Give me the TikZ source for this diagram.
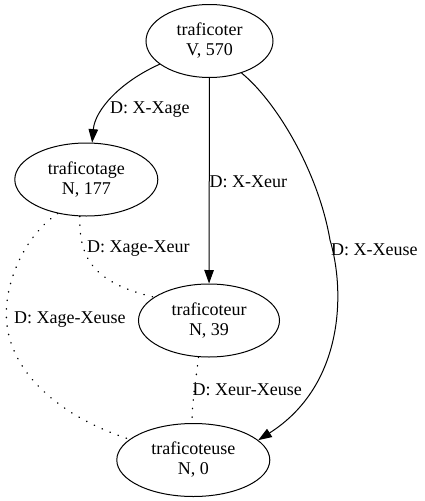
\documentclass[tikz,border=0pt]{standalone}
\usepackage{fontspec}
\setmainfont{Liberation Serif}
\usetikzlibrary{arrows.meta,shapes.geometric}
\begin{document}
\begin{tikzpicture}[x=1pt,y=-1pt,
  every node/.style={font=\fontsize{18}{20}\selectfont},
  word/.style={draw, ellipse, inner sep=0pt, align=center, line width=1pt, minimum height=73pt},
  lbl/.style={anchor=west, inner sep=0pt},
  link/.style={line width=1pt, -{Triangle[length=13.5pt,width=9.5pt]}},
  rel/.style={line width=1.4pt, line cap=round, dash pattern=on 0.4pt off 8.2pt}]
\fill[white] (0,0) rectangle (425,501);
\useasboundingbox (0,0) rectangle (425,501);
\node[word, minimum width=127pt] (r) at (209.5,41) {traficoter\\V, 570};
\node[word, minimum width=143pt] (g) at (86.3,179.5) {traficotage\\N, 177};
\node[word, minimum width=141pt] (e) at (209,320.5) {traficoteur\\N, 39};
\node[word, minimum width=153pt] (u) at (193.3,460) {traficoteuse\\N, 0};
\node[lbl] (l1) at (110,110) {D: X-Xage};
\node[lbl] (l2) at (209.5,182) {D: X-Xeur};
\node[lbl] (l3) at (331,250) {D: X-Xeuse};
\node[lbl] (l4) at (87,249) {D: Xage-Xeur};
\node[lbl] (l5) at (14,320) {D: Xage-Xeuse};
\node[lbl] (l6) at (192.5,390) {D: Xeur-Xeuse};
\draw[link] (r.205) .. controls (120,82) and (95,110) .. (g.81);
\draw[link] (r) -- (e);
\draw[link] (r.-45) .. controls (275,100) and (318,170) .. (330,240) .. controls (345,290) and (345,385) .. (u.17);
\draw[rel] (g.260) .. controls (79,255) and (90,282) .. (e.157);
\draw[rel] (g.230) .. controls (25,235) and (2,285) .. (7,325) .. controls (12,370) and (55,415) .. (u.162);
\draw[rel] (e.254) .. controls (196,380) and (192,400) .. (u.92);
\end{tikzpicture}
\end{document}
